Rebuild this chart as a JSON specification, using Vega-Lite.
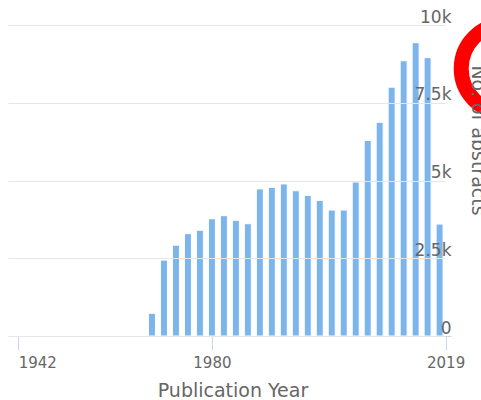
{
  "$schema": "https://vega.github.io/schema/vega-lite/v6.json",
  "width": 443,
  "height": 311,
  "autosize": {"type": "none"},
  "padding": {"left": 8, "top": 25, "right": 30, "bottom": 64},
  "background": "white",
  "config": {"view": {"stroke": null}, "font": "DejaVu Sans"},
  "layer": [
    {
      "data": {"values": [
        {"year": 1970, "abstracts": 730},
        {"year": 1972, "abstracts": 2440},
        {"year": 1974, "abstracts": 2920},
        {"year": 1976, "abstracts": 3290},
        {"year": 1978, "abstracts": 3400},
        {"year": 1980, "abstracts": 3770},
        {"year": 1982, "abstracts": 3870},
        {"year": 1984, "abstracts": 3720},
        {"year": 1986, "abstracts": 3610},
        {"year": 1988, "abstracts": 4730},
        {"year": 1990, "abstracts": 4780},
        {"year": 1992, "abstracts": 4890},
        {"year": 1994, "abstracts": 4670},
        {"year": 1996, "abstracts": 4520},
        {"year": 1998, "abstracts": 4360},
        {"year": 2000, "abstracts": 4050},
        {"year": 2002, "abstracts": 4050},
        {"year": 2004, "abstracts": 4950},
        {"year": 2006, "abstracts": 6290},
        {"year": 2008, "abstracts": 6870},
        {"year": 2010, "abstracts": 8000},
        {"year": 2012, "abstracts": 8850},
        {"year": 2014, "abstracts": 9430},
        {"year": 2016, "abstracts": 8950},
        {"year": 2018, "abstracts": 3600}
      ]},
      "mark": {"type": "bar", "width": 7, "color": "#7cb5ec", "stroke": "#ffffff", "strokeWidth": 1},
      "encoding": {
        "x": {
          "field": "year", "type": "quantitative",
          "scale": {"domain": [1942, 1968, 2019], "range": [6, 132, 443], "nice": false, "zero": false},
          "axis": {
            "values": [1942, 1980, 2019], "format": "d", "title": "Publication Year",
            "grid": false, "domainColor": "#ccd6eb", "tickColor": "#ccd6eb", "tickSize": 14,
            "labelPadding": 5, "labelFontSize": 15, "labelColor": "#666666", "labelFont": "DejaVu Sans",
            "labelAlign": {"condition": {"test": "datum.value == 1942", "value": "left"}, "value": "center"},
            "labelFlush": false, "labelOverlap": false, "labelBound": false,
            "titleFontSize": 19, "titleFontWeight": "normal", "titleColor": "#666666", "titleFont": "DejaVu Sans",
            "titlePadding": 11
          }
        },
        "y": {
          "field": "abstracts", "type": "quantitative",
          "scale": {"domain": [0, 10000], "nice": false},
          "axis": {
            "orient": "right", "values": [0, 2500, 5000, 7500, 10000],
            "labelExpr": "datum.value == 0 ? '0' : (datum.value / 1000) + 'k'",
            "title": "No. of abstracts", "grid": true, "gridColor": "#e6e6e6", "gridWidth": 1,
            "domain": false, "ticks": false, "labelAlign": "right", "labelPadding": 0,
            "labelBaseline": "alphabetic", "labelOffset": -3, "labelFontSize": 17,
            "labelColor": "#666666", "labelFont": "DejaVu Sans", "labelBound": false, "labelOverlap": false,
            "titleFontSize": 19, "titleFontWeight": "normal", "titleColor": "#666666", "titleFont": "DejaVu Sans",
            "titleAngle": 90, "titleX": 20, "titleY": 115, "titleBaseline": "alphabetic", "titleAlign": "center",
            "zindex": 1
          }
        }
      }
    },
    {
      "data": {"values": [{"year": 2029, "abstracts": 8600}]},
      "mark": {"type": "point", "shape": "circle", "filled": false, "size": 7854, "stroke": "#ff0000", "strokeWidth": 15, "opacity": 1},
      "encoding": {
        "x": {"field": "year", "type": "quantitative", "scale": {"domain": [1942, 1968, 2019], "range": [6, 132, 443], "nice": false, "zero": false}},
        "y": {"field": "abstracts", "type": "quantitative", "scale": {"domain": [0, 10000], "nice": false}}
      }
    }
  ]
}
